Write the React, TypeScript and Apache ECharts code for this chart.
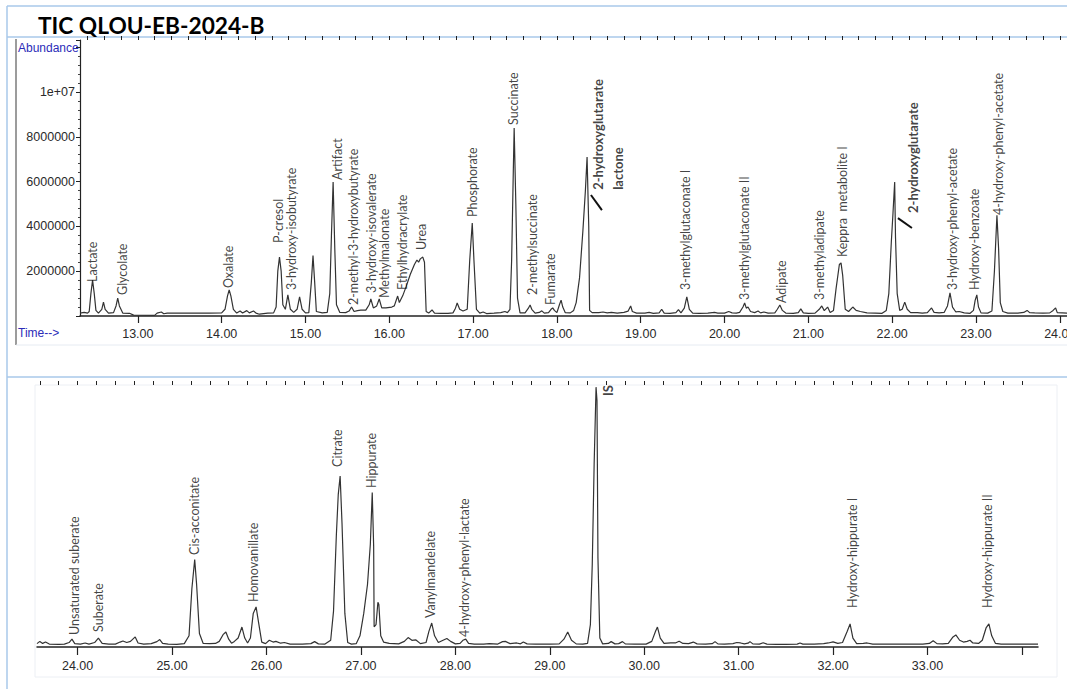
import React, { useEffect, useRef } from "react";
import * as echarts from "echarts";

const TITLE = "TIC QLOU-EB-2024-B";

// [retention time (min), abundance]
const topTrace: [number, number][] = [
  [12.31,130000],[12.36,160000],[12.40,130000],[12.42,200000],[12.44,1000000],[12.46,1600000],[12.48,1000000],[12.50,250000],
  [12.53,130000],[12.57,300000],[12.59,620000],[12.61,300000],[12.65,130000],[12.71,150000],[12.74,450000],[12.76,800000],
  [12.78,450000],[12.82,130000],[12.90,120000],[12.95,40000],[13.20,30000],[13.23,130000],[13.28,180000],[13.31,100000],
  [13.35,130000],[13.60,130000],[13.85,130000],[14.00,140000],[14.04,300000],[14.07,900000],[14.09,1160000],[14.11,900000],
  [14.14,300000],[14.18,130000],[14.22,220000],[14.25,130000],[14.30,240000],[14.33,140000],[14.38,220000],[14.41,130000],
  [14.45,80000],[14.55,130000],[14.62,140000],[14.65,400000],[14.67,2000000],[14.69,2630000],[14.71,2000000],[14.73,500000],
  [14.76,300000],[14.79,940000],[14.82,300000],[14.86,160000],[14.90,300000],[14.93,850000],[14.96,300000],[15.00,140000],
  [15.04,150000],[15.07,1500000],[15.09,2700000],[15.11,1500000],[15.13,200000],[15.20,140000],[15.26,160000],[15.29,1000000],
  [15.31,3600000],[15.33,5980000],[15.35,3000000],[15.37,500000],[15.41,160000],[15.48,150000],[15.52,220000],[15.55,400000],
  [15.58,200000],[15.62,240000],[15.66,260000],[15.72,260000],[15.76,500000],[15.78,760000],[15.81,360000],[15.85,450000],
  [15.88,760000],[15.91,360000],[15.96,360000],[16.03,400000],[16.06,450000],[16.10,890000],[16.12,600000],[16.16,900000],
  [16.20,1300000],[16.25,1850000],[16.30,2300000],[16.33,2500000],[16.35,2400000],[16.37,2550000],[16.40,2630000],[16.42,2400000],
  [16.44,200000],[16.47,130000],[16.51,270000],[16.54,130000],[16.62,120000],[16.70,120000],[16.76,140000],[16.79,350000],
  [16.81,580000],[16.84,300000],[16.88,220000],[16.93,300000],[16.96,2500000],[16.99,4150000],[17.01,2500000],[17.04,300000],
  [17.08,130000],[17.12,180000],[17.16,110000],[17.25,130000],[17.33,150000],[17.38,200000],[17.41,150000],[17.44,300000],
  [17.46,2500000],[17.48,6500000],[17.49,8390000],[17.51,5000000],[17.53,800000],[17.56,140000],[17.62,140000],[17.66,350000],
  [17.68,490000],[17.70,300000],[17.74,130000],[17.79,160000],[17.82,230000],[17.85,130000],[17.90,150000],[17.93,300000],
  [17.95,360000],[17.97,250000],[18.00,150000],[18.03,500000],[18.05,710000],[18.07,400000],[18.10,150000],[18.16,140000],
  [18.20,250000],[18.23,600000],[18.27,1700000],[18.31,3800000],[18.34,5600000],[18.36,7100000],[18.38,4000000],[18.39,250000],
  [18.42,150000],[18.50,150000],[18.55,180000],[18.60,140000],[18.65,160000],[18.72,130000],[18.80,160000],[18.85,220000],
  [18.88,450000],[18.90,200000],[18.95,130000],[19.05,130000],[19.10,160000],[19.15,120000],[19.22,140000],[19.25,300000],
  [19.28,130000],[19.35,120000],[19.42,150000],[19.45,280000],[19.48,140000],[19.52,350000],[19.55,850000],[19.58,300000],
  [19.62,130000],[19.70,120000],[19.80,130000],[19.88,160000],[19.92,130000],[20.00,130000],[20.05,200000],[20.09,140000],
  [20.14,130000],[20.18,160000],[20.22,400000],[20.24,580000],[20.26,350000],[20.28,400000],[20.31,200000],[20.36,150000],
  [20.40,220000],[20.43,140000],[20.47,180000],[20.52,130000],[20.60,140000],[20.63,300000],[20.66,490000],[20.69,250000],
  [20.73,130000],[20.82,120000],[20.88,150000],[20.91,320000],[20.94,140000],[21.00,120000],[21.08,130000],[21.13,300000],
  [21.16,450000],[21.19,240000],[21.23,400000],[21.26,160000],[21.30,250000],[21.33,1200000],[21.37,2300000],[21.39,2370000],
  [21.41,1800000],[21.44,300000],[21.48,200000],[21.53,400000],[21.57,250000],[21.62,200000],[21.70,140000],[21.80,130000],
  [21.88,120000],[21.93,250000],[21.96,1000000],[21.99,3300000],[22.01,4600000],[22.03,5980000],[22.04,3500000],[22.06,1000000],
  [22.09,250000],[22.12,300000],[22.15,620000],[22.18,300000],[22.22,150000],[22.30,150000],[22.36,130000],[22.42,150000],
  [22.47,360000],[22.50,160000],[22.56,140000],[22.62,160000],[22.66,450000],[22.69,1030000],[22.72,400000],[22.76,180000],
  [22.80,200000],[22.86,140000],[22.93,120000],[22.97,250000],[22.99,700000],[23.01,940000],[23.03,400000],[23.06,140000],
  [23.14,130000],[23.19,220000],[23.22,2000000],[23.25,4500000],[23.27,3000000],[23.29,600000],[23.32,200000],[23.38,130000],
  [23.50,130000],[23.57,160000],[23.61,250000],[23.64,150000],[23.70,140000],[23.80,130000],[23.88,140000],[23.92,250000],
  [23.95,360000],[23.97,150000],[24.03,140000],[24.09,130000],
];

const bottomTrace: [number, number][] = [
  [23.57,150000],[23.60,250000],[23.63,160000],[23.66,220000],[23.70,130000],[23.80,120000],[23.86,130000],[23.91,200000],
  [23.94,350000],[23.97,150000],[24.03,130000],[24.08,180000],[24.12,130000],[24.18,200000],[24.22,400000],[24.26,160000],
  [24.33,130000],[24.40,130000],[24.45,220000],[24.48,270000],[24.52,200000],[24.56,250000],[24.61,450000],[24.64,180000],
  [24.70,130000],[24.78,150000],[24.84,240000],[24.87,330000],[24.90,160000],[24.96,130000],[25.05,120000],[25.13,150000],
  [25.18,500000],[25.21,2600000],[25.24,3900000],[25.26,2800000],[25.29,600000],[25.33,160000],[25.40,150000],[25.46,160000],
  [25.50,250000],[25.54,550000],[25.57,670000],[25.60,350000],[25.63,170000],[25.66,250000],[25.70,400000],[25.74,890000],
  [25.77,400000],[25.80,180000],[25.83,400000],[25.86,1500000],[25.89,1790000],[25.92,1000000],[25.95,220000],[25.99,150000],
  [26.03,300000],[26.07,220000],[26.10,250000],[26.15,170000],[26.19,200000],[26.25,130000],[26.38,130000],[26.47,150000],
  [26.51,240000],[26.55,140000],[26.62,130000],[26.68,300000],[26.71,1600000],[26.74,5000000],[26.76,6800000],[26.78,7630000],
  [26.80,5500000],[26.83,1500000],[26.86,200000],[26.90,130000],[26.95,150000],[26.99,500000],[27.03,1500000],[27.07,2800000],
  [27.10,4600000],[27.12,6900000],[27.135,4500000],[27.14,900000],[27.16,1000000],[27.18,2000000],[27.19,1900000],[27.21,500000],
  [27.24,220000],[27.30,160000],[27.40,140000],[27.46,250000],[27.50,420000],[27.54,300000],[27.58,320000],[27.63,150000],
  [27.69,200000],[27.72,700000],[27.75,1070000],[27.78,500000],[27.82,200000],[27.87,300000],[27.91,380000],[27.95,250000],
  [28.00,140000],[28.05,160000],[28.08,300000],[28.11,350000],[28.14,160000],[28.20,130000],[28.30,130000],[28.36,150000],
  [28.45,130000],[28.50,240000],[28.53,250000],[28.58,150000],[28.65,180000],[28.69,140000],[28.72,220000],[28.76,140000],
  [28.85,130000],[29.00,130000],[29.10,140000],[29.15,350000],[29.19,670000],[29.23,300000],[29.28,140000],[29.35,130000],
  [29.40,160000],[29.43,1000000],[29.45,3700000],[29.47,8200000],[29.49,11600000],[29.50,11000000],[29.51,4000000],[29.53,400000],
  [29.56,140000],[29.62,160000],[29.65,240000],[29.69,140000],[29.73,150000],[29.77,240000],[29.80,140000],[29.90,130000],
  [30.02,130000],[30.08,250000],[30.12,700000],[30.14,890000],[30.17,400000],[30.21,160000],[30.28,180000],[30.33,180000],
  [30.37,260000],[30.41,160000],[30.47,150000],[30.52,220000],[30.56,140000],[30.65,130000],[30.72,150000],[30.75,240000],
  [30.78,140000],[30.85,130000],[30.94,150000],[30.98,200000],[31.02,180000],[31.06,140000],[31.10,170000],[31.12,240000],
  [31.15,140000],[31.22,130000],[31.26,190000],[31.30,130000],[31.40,120000],[31.50,120000],[31.62,130000],[31.65,180000],
  [31.68,130000],[31.80,130000],[31.90,150000],[31.95,180000],[32.00,230000],[32.05,160000],[32.10,200000],[32.15,700000],
  [32.18,1030000],[32.21,400000],[32.25,150000],[32.32,160000],[32.36,180000],[32.42,130000],[32.60,130000],[32.80,130000],
  [32.95,130000],[33.02,160000],[33.06,280000],[33.10,150000],[33.16,140000],[33.22,160000],[33.27,450000],[33.30,540000],
  [33.34,300000],[33.38,220000],[33.42,250000],[33.45,300000],[33.48,180000],[33.54,160000],[33.58,300000],[33.62,850000],
  [33.65,1030000],[33.68,500000],[33.72,160000],[33.78,130000],[33.90,130000],[34.00,130000],[34.17,130000],
];

// [name, time, abundance at text start]
const topLabels: [string, number, number][] = [
  ["Lactate", 12.463, 1520000],
  ["Glycolate", 12.821, 940000],
  ["Oxalate", 14.086, 1250000],
  ["P-cresol", 14.683, 3260000],
  ["3-hydroxy-isobutyrate", 14.838, 1160000],
  ["Artifact", 15.387, 6070000],
  ["2-methyl-3-hydroxybutyrate", 15.578, 490000],
  ["3-hydroxy-isovalerate", 15.792, 1030000],
  ["Methylmalonate", 15.947, 800000],
  ["Ethylhydracrylate", 16.162, 1160000],
  ["Urea", 16.389, 2950000],
  ["Phosphorate", 16.998, 4420000],
  ["Succinate", 17.487, 8530000],
  ["2-methylsuccinate", 17.714, 940000],
  ["Fumarate", 17.928, 490000],
  ["3-methylglutaconate I", 19.539, 1160000],
  ["3-methylglutaconate II", 20.243, 710000],
  ["Adipate", 20.685, 580000],
  ["3-methyladipate", 21.138, 710000],
  ["Keppra  metabolite I", 21.413, 2630000],
  ["3-hydroxy-phenyl-acetate", 22.714, 1160000],
  ["Hydroxy-benzoate", 22.988, 1160000],
  ["4-hydroxy-phenyl-acetate", 23.263, 4510000],
];
const topBoldLabels: [string, number, number][] = [
  ["2-hydroxyglutarate\nlactone", 18.609, 5630000],
  ["2-hydroxyglutarate", 22.248, 4600000],
];
const topLeaders: [number, number][][] = [
  [[18.406, 5400000], [18.537, 4730000]],
  [[22.069, 4370000], [22.236, 3930000]],
];
const bottomLabels: [string, number, number][] = [
  ["Unsaturated suberate", 23.968, 540000],
  ["Suberate", 24.222, 670000],
  ["Cis-acconitate", 25.239, 4110000],
  ["Homovanillate", 25.864, 2010000],
  ["Citrate", 26.754, 8040000],
  ["Hippurate", 27.114, 7100000],
  ["Vanylmandelate", 27.739, 1290000],
  ["4-hydroxy-phenyl-lactate", 28.1, 450000],
  ["Hydroxy-hippurate I", 32.21, 1740000],
  ["Hydroxy-hippurate II", 33.64, 1740000],
];
const bottomBoldLabels: [string, number, number][] = [["IS", 29.614, 11200000]];

const topMajorTicks = [13, 14, 15, 16, 17, 18, 19, 20, 21, 22, 23, 24];
const bottomMajorTicks = [24, 25, 26, 27, 28, 29, 30, 31, 32, 33, 34];
const bottomTickLabels = [24, 25, 26, 27, 28, 29, 30, 31, 32, 33];

const AXIS_FONT = "'Liberation Sans', Arial, sans-serif";
const LABEL_FONT = "Lato, 'Open Sans', sans-serif";
const BLUE_FRAME = "#a8c8ea";

function minorTicks(from: number, to: number): number[] {
  const out: number[] = [];
  for (let k = Math.ceil(from * 5); k <= Math.floor(to * 5); k++) out.push(k / 5);
  return out;
}

function labelSeries(items: [string, number, number][], xi: number, yi: number, bold: boolean) {
  return {
    type: "scatter",
    xAxisIndex: xi,
    yAxisIndex: yi,
    symbolSize: 0,
    silent: true,
    z: 5,
    data: items.map(([n, t, v]) => ({ name: n, value: [t, v] })),
    label: {
      show: true,
      formatter: "{b}",
      position: [0, 0],
      rotate: 90,
      align: "left",
      verticalAlign: "middle",
      fontFamily: LABEL_FONT,
      fontSize: bold ? 13 : 12.5,
      fontWeight: bold ? "bold" : "normal",
      lineHeight: 20,
      color: "#111",
    },
  };
}

export default function App() {
  const ref = useRef<HTMLDivElement>(null);
  useEffect(() => {
    if (!ref.current) return;
    const chart = echarts.init(ref.current, undefined, { renderer: "svg" });
    const topMin = 12.31, topMax = 24.086, botMin = 23.57, botMax = 34.17;
    const axisText = { fontFamily: AXIS_FONT, fontSize: 12.5, color: "#2a2a2a" };
    const option: any = {
      animation: false,
      backgroundColor: "#ffffff",
      grid: [
        { left: 80, top: 40, width: 987, height: 276, outerBoundsMode: "none", containLabel: false },
        { left: 37, top: 385, width: 1001, height: 262, outerBoundsMode: "none", containLabel: false },
      ],
      xAxis: [
        {
          gridIndex: 0, type: "value", min: topMin, max: topMax,
          axisLine: { show: true, lineStyle: { color: "#222", width: 1.5 } },
          axisTick: { show: true, customValues: topMajorTicks, length: 7, lineStyle: { color: "#222", width: 1.2 } },
          axisLabel: { show: true, customValues: topMajorTicks, margin: 11, hideOverlap: false, formatter: (v: number) => v.toFixed(2), ...axisText },
          splitLine: { show: false },
        },
        {
          gridIndex: 0, type: "value", min: topMin, max: topMax,
          axisLine: { show: false },
          axisTick: { show: true, customValues: minorTicks(topMin, topMax), length: 4, lineStyle: { color: "#222", width: 1 } },
          axisLabel: { show: false },
          splitLine: { show: false },
        },
        {
          gridIndex: 1, type: "value", min: botMin, max: botMax,
          axisLine: { show: true, lineStyle: { color: "#222", width: 1.5 } },
          axisTick: { show: true, customValues: bottomMajorTicks, length: 8, lineStyle: { color: "#222", width: 1.2 } },
          axisLabel: { show: true, customValues: bottomTickLabels, margin: 12, formatter: (v: number) => v.toFixed(2), ...axisText },
          splitLine: { show: false },
        },
        {
          gridIndex: 1, type: "value", min: botMin, max: botMax,
          axisLine: { show: false },
          axisTick: { show: true, customValues: minorTicks(botMin, botMax), length: 4, lineStyle: { color: "#222", width: 1 } },
          axisLabel: { show: false },
          splitLine: { show: false },
        },
      ],
      yAxis: [
        {
          gridIndex: 0, type: "value", min: 0, max: 12320000, interval: 2000000,
          axisLine: { show: true, lineStyle: { color: "#222", width: 1.2 } },
          axisTick: { show: true, length: 4, lineStyle: { color: "#222" } },
          minorTick: { show: true, splitNumber: 5, length: 2, lineStyle: { color: "#444" } },
          axisLabel: {
            margin: 5,
            formatter: (v: number) => (v === 0 || v > 11000000 ? "" : v === 10000000 ? "1e+07" : String(v)),
            ...axisText,
          },
          splitLine: { show: false },
        },
        { gridIndex: 1, type: "value", min: 0, max: 11696000, show: false },
      ],
      series: [
        {
          type: "line", xAxisIndex: 0, yAxisIndex: 0, data: topTrace, showSymbol: false, symbol: "none",
          lineStyle: { color: "#333", width: 1.2 }, silent: true, z: 3,
        },
        {
          type: "line", xAxisIndex: 2, yAxisIndex: 1, data: bottomTrace, showSymbol: false, symbol: "none",
          lineStyle: { color: "#333", width: 1.2 }, silent: true, z: 3,
        },
        ...topLeaders.map((seg) => ({
          type: "line", xAxisIndex: 0, yAxisIndex: 0, data: seg, showSymbol: false, symbol: "none",
          lineStyle: { color: "#111", width: 2 }, silent: true, z: 4,
        })),
        labelSeries(topLabels, 0, 0, false),
        labelSeries(topBoldLabels, 0, 0, true),
        labelSeries(bottomLabels, 2, 1, false),
        labelSeries(bottomBoldLabels, 2, 1, true),
      ],
      graphic: [
        { type: "line", shape: { x1: 7, y1: 6, x2: 1067, y2: 6 }, style: { stroke: BLUE_FRAME, lineWidth: 1.5 }, silent: true },
        { type: "line", shape: { x1: 7, y1: 37, x2: 1067, y2: 37 }, style: { stroke: BLUE_FRAME, lineWidth: 1.5 }, silent: true },
        { type: "line", shape: { x1: 7, y1: 6, x2: 7, y2: 689 }, style: { stroke: BLUE_FRAME, lineWidth: 1.5 }, silent: true },
        { type: "line", shape: { x1: 7, y1: 377, x2: 1067, y2: 377 }, style: { stroke: BLUE_FRAME, lineWidth: 1.5 }, silent: true },
        { type: "line", shape: { x1: 16, y1: 39, x2: 16, y2: 345 }, style: { stroke: "#9c9c9c", lineWidth: 2 }, silent: true },
        { type: "line", shape: { x1: 16, y1: 345, x2: 1067, y2: 345 }, style: { stroke: "#e6ebf2", lineWidth: 1 }, silent: true },
        { type: "rect", shape: { x: 35, y: 385, width: 1022, height: 292 }, style: { fill: "none", stroke: "#eceff4", lineWidth: 1 }, silent: true, z: -1 },
        {
          type: "text", x: 38, y: 25, silent: true,
          style: { text: TITLE, fontFamily: "Lato, 'Open Sans', sans-serif", fontWeight: "bold", fontSize: 22.7, fill: "#000", verticalAlign: "middle" },
        },
        {
          type: "text", x: 18, y: 48, silent: true,
          style: { text: "Abundance", fontFamily: AXIS_FONT, fontSize: 12, fill: "#2b2bb8", verticalAlign: "middle" },
        },
        {
          type: "text", x: 18, y: 333, silent: true,
          style: { text: "Time-->", fontFamily: AXIS_FONT, fontSize: 12, fill: "#2b2bb8", verticalAlign: "middle" },
        },
      ],
    };
    chart.setOption(option);
    return () => chart.dispose();
  }, []);
  return (
    <div
      ref={ref}
      style={{ position: "absolute", left: 0, top: 0, width: 1067, height: 689, background: "#fff" }}
    />
  );
}
